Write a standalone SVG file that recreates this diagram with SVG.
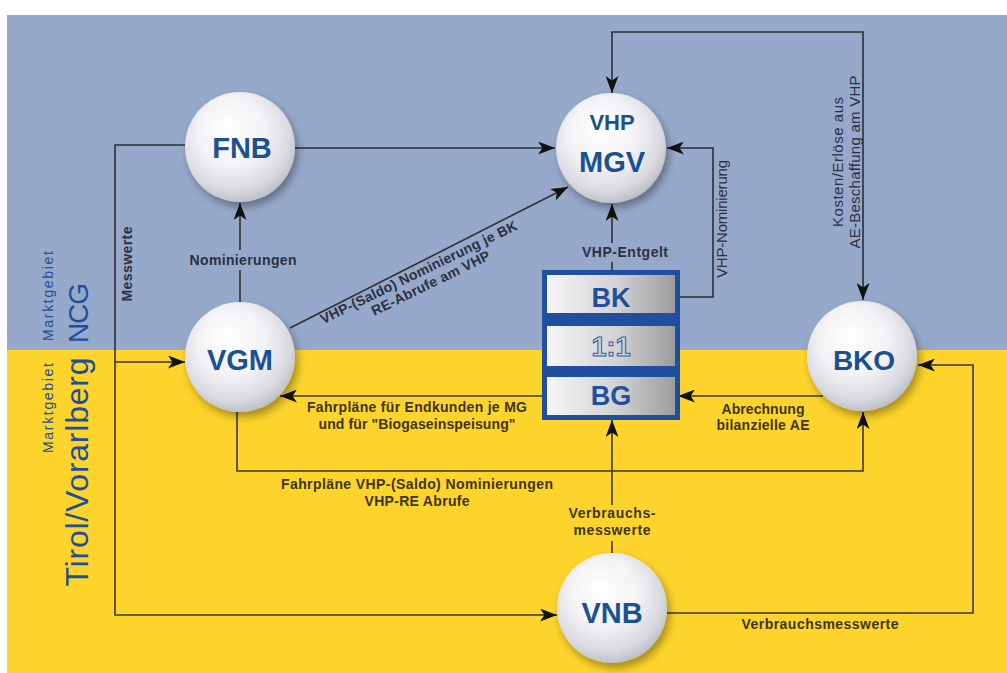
<svg xmlns="http://www.w3.org/2000/svg" width="1007" height="673" viewBox="0 0 1007 673">
<defs>
<radialGradient id="sph" cx="0.45" cy="0.4" r="0.62" fx="0.4" fy="0.32">
<stop offset="0" stop-color="#ffffff"/>
<stop offset="0.5" stop-color="#f3f3f6"/>
<stop offset="0.82" stop-color="#d9d9e0"/>
<stop offset="1" stop-color="#bdbdc6"/>
</radialGradient>
<linearGradient id="cell" x1="0" y1="0" x2="1" y2="0">
<stop offset="0" stop-color="#f6f6f6"/>
<stop offset="0.55" stop-color="#d2d2d4"/>
<stop offset="1" stop-color="#9c9c9e"/>
</linearGradient>
<filter id="shadow" x="-30%" y="-30%" width="170%" height="170%">
<feDropShadow dx="3" dy="5" stdDeviation="4" flood-color="#000" flood-opacity="0.35"/>
</filter>
<marker id="arr" viewBox="0 0 17 13" refX="17" refY="6.5" markerWidth="17" markerHeight="13" markerUnits="userSpaceOnUse" orient="auto-start-reverse">
<path d="M0,0 L17,6.5 L0,13 L4.5,6.5 Z" fill="#111"/>
</marker>
<style>
.ln{fill:none;stroke:#2e2e34;stroke-width:1.6}
.lny{fill:none;stroke:#3d3420;stroke-width:1.6}
.sphere{fill:url(#sph);filter:url(#shadow)}
.nt{font-family:"Liberation Sans",Arial,sans-serif;font-weight:bold;fill:#1a5190;text-anchor:middle}
.lb{font-family:"Liberation Sans",Arial,sans-serif;font-weight:bold;font-size:14px;fill:#2c3040;text-anchor:middle}
.lby{font-family:"Liberation Sans",Arial,sans-serif;font-weight:bold;font-size:14px;fill:#3e3418;text-anchor:middle}
.lr{font-family:"Liberation Sans",Arial,sans-serif;font-size:15px;fill:#2c3040;text-anchor:middle}
.mk{font-family:"Liberation Sans",Arial,sans-serif;fill:#1e4f9a;text-anchor:middle}
.cellt{font-family:"Liberation Sans",Arial,sans-serif;font-weight:bold;font-size:27px;fill:#234f9e;text-anchor:middle}
</style>
</defs>

<rect x="0" y="0" width="1007" height="673" fill="#ffffff"/>
<rect x="7" y="15" width="1000" height="335" fill="#97a9cb"/>
<rect x="7" y="350" width="1000" height="323" fill="#fdd42b"/>

<g id="region-labels">
<text class="mk" font-size="14" transform="translate(53,296) rotate(-90)" textLength="90">Marktgebiet</text>
<text class="mk" font-size="28" transform="translate(88,313) rotate(-90)" textLength="60">NCG</text>
<text class="mk" font-size="14" transform="translate(53,408) rotate(-90)" textLength="90">Marktgebiet</text>
<text class="mk" font-size="32" transform="translate(88,472) rotate(-90)" textLength="229">Tirol/Vorarlberg</text>
</g>

<g id="connectors">
<path class="ln" d="M295,148 H555" marker-end="url(#arr)"/>
<path class="ln" d="M240,302 V270"/>
<path class="ln" d="M240,250 V203" marker-end="url(#arr)"/>
<path class="ln" d="M290,328 L568,187" marker-end="url(#arr)"/>
<path class="ln" d="M612,270 V262"/>
<path class="ln" d="M612,243 V204" marker-end="url(#arr)"/>
<path class="ln" d="M680,297 H713 V148 H667" marker-end="url(#arr)"/>
<path class="ln" d="M612,93 V32 H863 V300" marker-start="url(#arr)" marker-end="url(#arr)"/>
<path class="ln" d="M185,145 H115 V350"/>
<path class="lny" d="M115,350 V615 H557" marker-end="url(#arr)"/>
<path class="lny" d="M115,362 H185" marker-end="url(#arr)"/>
<path class="lny" d="M542,396 H280" marker-end="url(#arr)"/>
<path class="lny" d="M237,412 V471 H863 V412" marker-end="url(#arr)"/>
<path class="lny" d="M823,396 H678" marker-end="url(#arr)"/>
<path class="lny" d="M612,553 V541"/>
<path class="lny" d="M612,505 V420" marker-end="url(#arr)"/>
<path class="lny" d="M667,613 H973 V365 H918" marker-end="url(#arr)"/>
</g>

<g id="connector-labels">
<text class="lb" transform="translate(132,264) rotate(-90)" textLength="75">Messwerte</text>
<text class="lb" x="243" y="265" textLength="107">Nominierungen</text>
<text class="lb" x="625" y="257" textLength="86">VHP-Entgelt</text>
<text class="lr" transform="translate(727,219) rotate(-90)" textLength="118">VHP-Nominierung</text>
<text class="lr" transform="translate(843,162) rotate(-90)" textLength="130">Kosten/Erlöse aus</text>
<text class="lr" transform="translate(860,162) rotate(-90)" textLength="173">AE-Beschaffung am VHP</text>
<g transform="translate(419,273) rotate(-26)">
<text class="lb" x="0" y="4" textLength="217">VHP-(Saldo) Nominierung je BK</text>
<text class="lb" x="6" y="19" textLength="130">RE-Abrufe am VHP</text>
</g>
<text class="lby" x="417" y="412" textLength="220">Fahrpläne für Endkunden je MG</text>
<text class="lby" x="417" y="429" textLength="197">und für "Biogaseinspeisung"</text>
<text class="lby" x="417" y="489" textLength="272">Fahrpläne VHP-(Saldo) Nominierungen</text>
<text class="lby" x="417" y="506" textLength="105">VHP-RE Abrufe</text>
<text class="lby" x="763" y="414" textLength="83">Abrechnung</text>
<text class="lby" x="763" y="430" textLength="93">bilanzielle AE</text>
<text class="lby" x="612" y="518" textLength="87">Verbrauchs-</text>
<text class="lby" x="612" y="535" textLength="77">messwerte</text>
<text class="lby" x="820" y="629" textLength="157">Verbrauchsmesswerte</text>
</g>

<g id="node-FNB">
<circle class="sphere" cx="240" cy="147" r="55"/>
<text class="nt" x="242" y="158" style="font-size:29px">FNB</text>
</g>
<g id="node-MGV">
<circle class="sphere" cx="611" cy="148" r="55"/>
<text class="nt" x="612" y="130" style="font-size:22px">VHP</text>
<text class="nt" x="612" y="172" style="font-size:29px">MGV</text>
</g>
<g id="node-VGM">
<circle class="sphere" cx="240" cy="357" r="55"/>
<text class="nt" x="240" y="370" style="font-size:29px">VGM</text>
</g>
<g id="node-BKO">
<circle class="sphere" cx="862" cy="356" r="55"/>
<text class="nt" x="864" y="370" style="font-size:28px">BKO</text>
</g>
<g id="node-VNB">
<circle class="sphere" cx="612" cy="608" r="55"/>
<text class="nt" x="612" y="623" style="font-size:29px">VNB</text>
</g>
<g id="node-BK-BG">
<rect x="542" y="270" width="138" height="150" fill="#1f4f9e"/>
<rect x="547" y="275" width="128" height="38" fill="url(#cell)"/>
<rect x="547" y="326" width="128" height="40" fill="url(#cell)"/>
<rect x="547" y="377" width="128" height="38" fill="url(#cell)"/>
<text class="cellt" x="611" y="307">BK</text>
<text class="cellt" x="611" y="356" style="fill:#cfd0d6;stroke:#3a5aa6;stroke-width:1">1:1</text>
<text class="cellt" x="611" y="405">BG</text>
</g>
</svg>
